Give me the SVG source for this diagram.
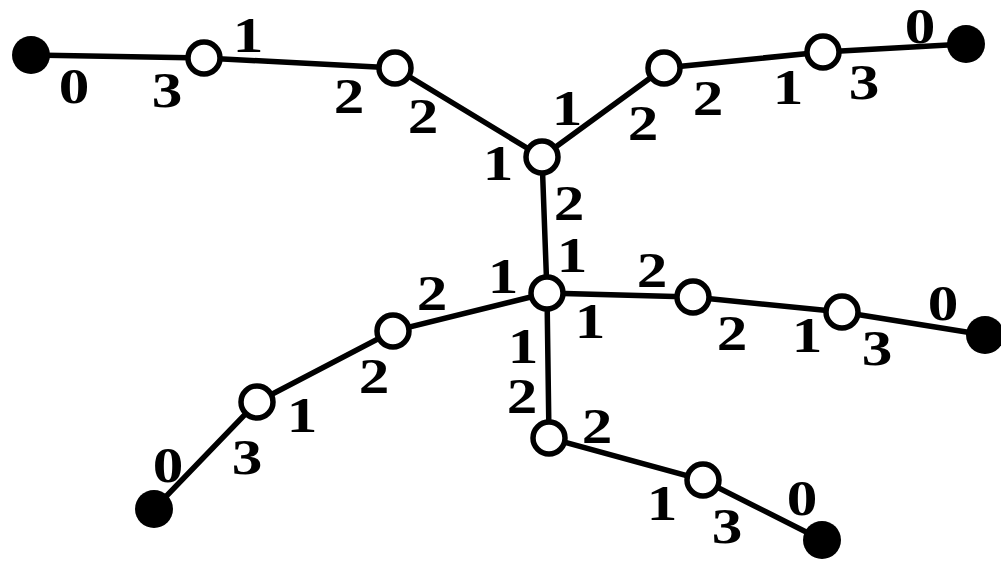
<svg xmlns="http://www.w3.org/2000/svg" width="1001" height="562" viewBox="0 0 1001 562">
<style>
.e{stroke:#000;stroke-width:5.5;fill:none;stroke-linecap:round}
.w{fill:#fff;stroke:#000;stroke-width:5.5}
.b{fill:#000}
text{font-family:"Liberation Serif","Times New Roman",serif;font-weight:bold;font-size:51px;text-anchor:middle;fill:#000}
</style>
<rect width="1001" height="562" fill="#fff"/>
<g id="connectors">
<polyline class="e" points="31,55 204,58 395,68 542,157 664,68 823,52 966,44"/>
<polyline class="e" points="542,157 547,293 693,297 842,312 985,335"/>
<polyline class="e" points="547,293 393,331 257,402 154,509"/>
<polyline class="e" points="547,293 549,438 703,480 822,540"/>
</g>
<g id="nodes">
<g id="b1"><circle class="b" cx="31" cy="55" r="19"/></g>
<g id="b2"><circle class="b" cx="966" cy="44" r="19"/></g>
<g id="b3"><circle class="b" cx="985" cy="335" r="19"/></g>
<g id="b4"><circle class="b" cx="154" cy="509" r="19"/></g>
<g id="b5"><circle class="b" cx="822" cy="540" r="19"/></g>
<g id="w1"><circle class="w" cx="204" cy="58" r="16"/></g>
<g id="w2"><circle class="w" cx="395" cy="68" r="16"/></g>
<g id="w3"><circle class="w" cx="542" cy="157" r="16"/></g>
<g id="w4"><circle class="w" cx="664" cy="68" r="16"/></g>
<g id="w5"><circle class="w" cx="823" cy="52" r="16"/></g>
<g id="w6"><circle class="w" cx="547" cy="293" r="16"/></g>
<g id="w7"><circle class="w" cx="693" cy="297" r="16"/></g>
<g id="w8"><circle class="w" cx="842" cy="312" r="16"/></g>
<g id="w9"><circle class="w" cx="393" cy="331" r="16"/></g>
<g id="w10"><circle class="w" cx="257" cy="402" r="16"/></g>
<g id="w11"><circle class="w" cx="549" cy="438" r="16"/></g>
<g id="w12"><circle class="w" cx="703" cy="480" r="16"/></g>
</g>
<g id="labels" transform="scale(1.2 1)">
<text x="61.67" y="103">0</text>
<text x="139.17" y="107">3</text>
<text x="206.67" y="52">1</text>
<text x="290.83" y="113">2</text>
<text x="352.5" y="133">2</text>
<text x="415" y="180">1</text>
<text x="472.5" y="125">1</text>
<text x="535.83" y="140">2</text>
<text x="590" y="115">2</text>
<text x="656.67" y="104">1</text>
<text x="720" y="99">3</text>
<text x="766.67" y="43">0</text>
<text x="474.17" y="220">2</text>
<text x="476.67" y="272">1</text>
<text x="419.17" y="293">1</text>
<text x="543.33" y="287">2</text>
<text x="491.67" y="338">1</text>
<text x="610" y="350">2</text>
<text x="672.5" y="352">1</text>
<text x="730.83" y="365">3</text>
<text x="785.83" y="320">0</text>
<text x="360" y="310">2</text>
<text x="311.67" y="393">2</text>
<text x="251.67" y="432">1</text>
<text x="205.83" y="474">3</text>
<text x="140" y="482">0</text>
<text x="435.83" y="363">1</text>
<text x="435" y="413">2</text>
<text x="497.5" y="443">2</text>
<text x="551.67" y="520">1</text>
<text x="605.83" y="543">3</text>
<text x="668.33" y="515">0</text>
</g>
</svg>
